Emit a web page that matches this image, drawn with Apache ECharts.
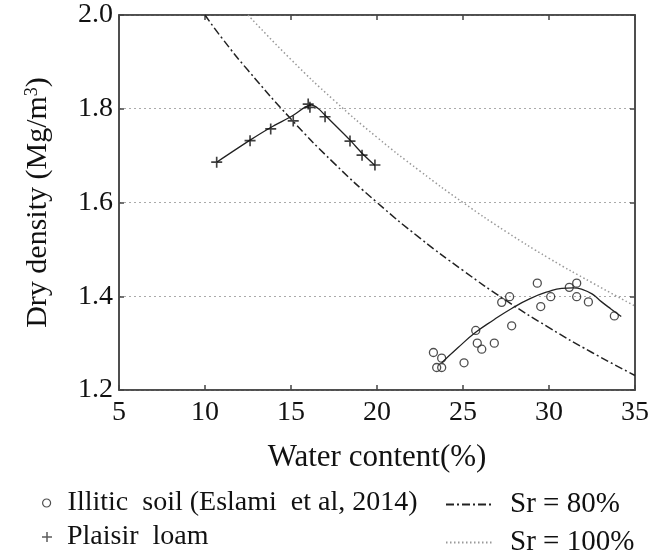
<!DOCTYPE html>
<html><head><meta charset="utf-8">
<script src="https://cdn.jsdelivr.net/npm/echarts@6/dist/echarts.min.js"></script>
<style>html,body{margin:0;padding:0;background:#fff}#c{width:665px;height:553px}</style>
</head><body><div id="c"></div>
<script>
// Illitic soil (Eslami et al, 2014) measured points [water content %, dry density]
const illiticPoints = [[23.28,1.280],[23.76,1.268],[23.47,1.248],[23.76,1.248],[25.06,1.258],[25.74,1.327],[25.83,1.300],[26.09,1.287],[26.82,1.300],[27.25,1.387],[27.71,1.399],[27.83,1.337],[29.32,1.428],[29.52,1.378],[30.10,1.399],[31.18,1.419],[31.61,1.428],[31.61,1.399],[32.29,1.388],[33.80,1.358]];
const illiticCurve = [[23.76,1.258],[24.7,1.290],[25.7,1.322],[26.8,1.350],[27.83,1.374],[28.9,1.395],[29.96,1.410],[30.74,1.417],[31.4,1.418],[31.9,1.415],[32.5,1.405],[33.06,1.388],[33.6,1.373],[34.2,1.357]];
// Plaisir loam
const plaisirPoints = [[10.68,1.686],[12.62,1.732],[13.82,1.757],[15.13,1.774],[16.0,1.810],[16.1,1.803],[16.98,1.783],[18.43,1.731],[19.13,1.701],[19.88,1.680]];
const plaisirCurve = [[10.68,1.686],[12.62,1.733],[13.82,1.760],[15.13,1.786],[15.8,1.803],[16.2,1.808],[16.6,1.800],[16.98,1.786],[18.43,1.733],[19.13,1.705],[19.88,1.679]];
// Saturation lines
const sr80 = [[10,2.000],[11,1.950],[12.5,1.882],[15,1.778],[17.5,1.684],[20,1.600],[22.5,1.524],[25,1.455],[27.5,1.391],[30,1.333],[32.5,1.280],[35,1.231]];
const sr100 = [[12.5,2.000],[15,1.905],[17.5,1.818],[20,1.739],[22.5,1.667],[25,1.600],[27.5,1.538],[30,1.481],[32.5,1.429],[35,1.379]];
const xTicks = [5,10,15,20,25,30,35];
const yTicks = [1.2,1.4,1.6,1.8,2.0];
const names = ['Illitic  soil (Eslami  et al, 2014)','Plaisir  loam','Sr = 80%','Sr = 100%'];

const FONT = '"Liberation Serif","Times New Roman",serif';
const axisCol = '#444';
const plusPath = 'path://M-1.5,-10L1.5,-10L1.5,-1.5L10,-1.5L10,1.5L1.5,1.5L1.5,10L-1.5,10L-1.5,1.5L-10,1.5L-10,-1.5L-1.5,-1.5Z';
const legText = (pad, fs) => ({fontFamily:FONT,fontSize:fs,color:'#111',padding:[0,0,0,pad]});

const chart = echarts.init(document.getElementById('c'));
chart.setOption({
  animation:false,
  backgroundColor:'#fff',
  grid:{left:119,right:30,top:15,bottom:163,show:true,borderColor:axisCol,borderWidth:1.5},
  legend:[
    {left:37,top:484,itemWidth:8,itemHeight:8,textStyle:legText(12,28),
     data:[{name:names[0],icon:'circle',itemStyle:{color:'transparent',borderColor:'#222',borderWidth:1.2}}]},
    {left:37,top:518,itemWidth:10,itemHeight:10,textStyle:legText(10,28),
     data:[{name:names[1],icon:plusPath,itemStyle:{color:'#333'}}]},
    {left:440,top:485,itemWidth:47,itemHeight:10,textStyle:legText(12,29),
     data:[{name:names[2],itemStyle:{opacity:0}}]},
    {left:440,top:523,itemWidth:47,itemHeight:10,textStyle:legText(12,29),
     data:[{name:names[3],itemStyle:{opacity:0}}]}
  ],
  xAxis:[{type:'value',min:5,max:35,interval:5,position:'bottom',
    name:'Water content(%)',nameLocation:'middle',nameGap:52,
    nameTextStyle:{fontFamily:FONT,fontSize:31,color:'#111'},
    axisLine:{show:true,lineStyle:{color:axisCol,width:1.5}},
    axisTick:{show:true,inside:true,length:5,lineStyle:{color:axisCol,width:1.5}},
    axisLabel:{fontFamily:FONT,fontSize:28,color:'#111',margin:9},
    splitLine:{show:false}},
   {type:'value',min:5,max:35,interval:5,position:'top',
    axisLine:{show:true,lineStyle:{color:axisCol,width:1.5}},
    axisTick:{show:true,inside:true,length:5,lineStyle:{color:axisCol,width:1.5}},
    axisLabel:{show:false},splitLine:{show:false}}],
  yAxis:[{type:'value',min:1.2,max:2.0,interval:0.2,
    name:'{a|Dry density (Mg/m}{s|3}{a|)}',nameLocation:'middle',nameGap:66,
    nameTextStyle:{rich:{a:{fontFamily:FONT,fontSize:30,color:'#111'},s:{fontFamily:FONT,fontSize:18,color:'#111',verticalAlign:'top',padding:[0,0,12,0]}}},
    axisLine:{show:true,lineStyle:{color:axisCol,width:1.5}},
    axisTick:{show:true,inside:true,length:5,lineStyle:{color:axisCol,width:1.5}},
    axisLabel:{fontFamily:FONT,fontSize:28,color:'#111',margin:6,formatter:v=>v.toFixed(1)},
    splitLine:{show:true,lineStyle:{color:'#aaa',type:[2,3],width:1.2}}},
   {type:'value',min:1.2,max:2.0,interval:0.2,position:'right',
    axisLine:{show:true,lineStyle:{color:axisCol,width:1.5}},
    axisTick:{show:true,inside:true,length:5,lineStyle:{color:axisCol,width:1.5}},
    axisLabel:{show:false},splitLine:{show:false}}],
  series:[
    {name:names[2],type:'line',data:sr80,smooth:true,showSymbol:false,symbol:'none',
     lineStyle:{color:'#222',width:1.5,type:[8,3,2,3]},itemStyle:{color:'#222'},z:2},
    {name:names[3],type:'line',data:sr100,smooth:true,showSymbol:false,symbol:'none',
     lineStyle:{color:'#999',width:1.5,type:[1.5,2.5]},itemStyle:{color:'#999'},z:2},
    {name:names[0],type:'scatter',data:illiticPoints,symbol:'circle',symbolSize:8,
     itemStyle:{color:'transparent',borderColor:'#222',borderWidth:1.3},z:4},
    {type:'line',data:illiticCurve,smooth:true,showSymbol:false,symbol:'none',lineStyle:{color:'#222',width:1.3},z:3,silent:true},
    {name:names[1],type:'scatter',data:plaisirPoints,symbol:plusPath,symbolSize:11,
     itemStyle:{color:'#111'},z:4},
    {type:'line',data:plaisirCurve,smooth:0.3,showSymbol:false,symbol:'none',lineStyle:{color:'#222',width:1.3},z:3,silent:true}
  ]
});
</script></body></html>
